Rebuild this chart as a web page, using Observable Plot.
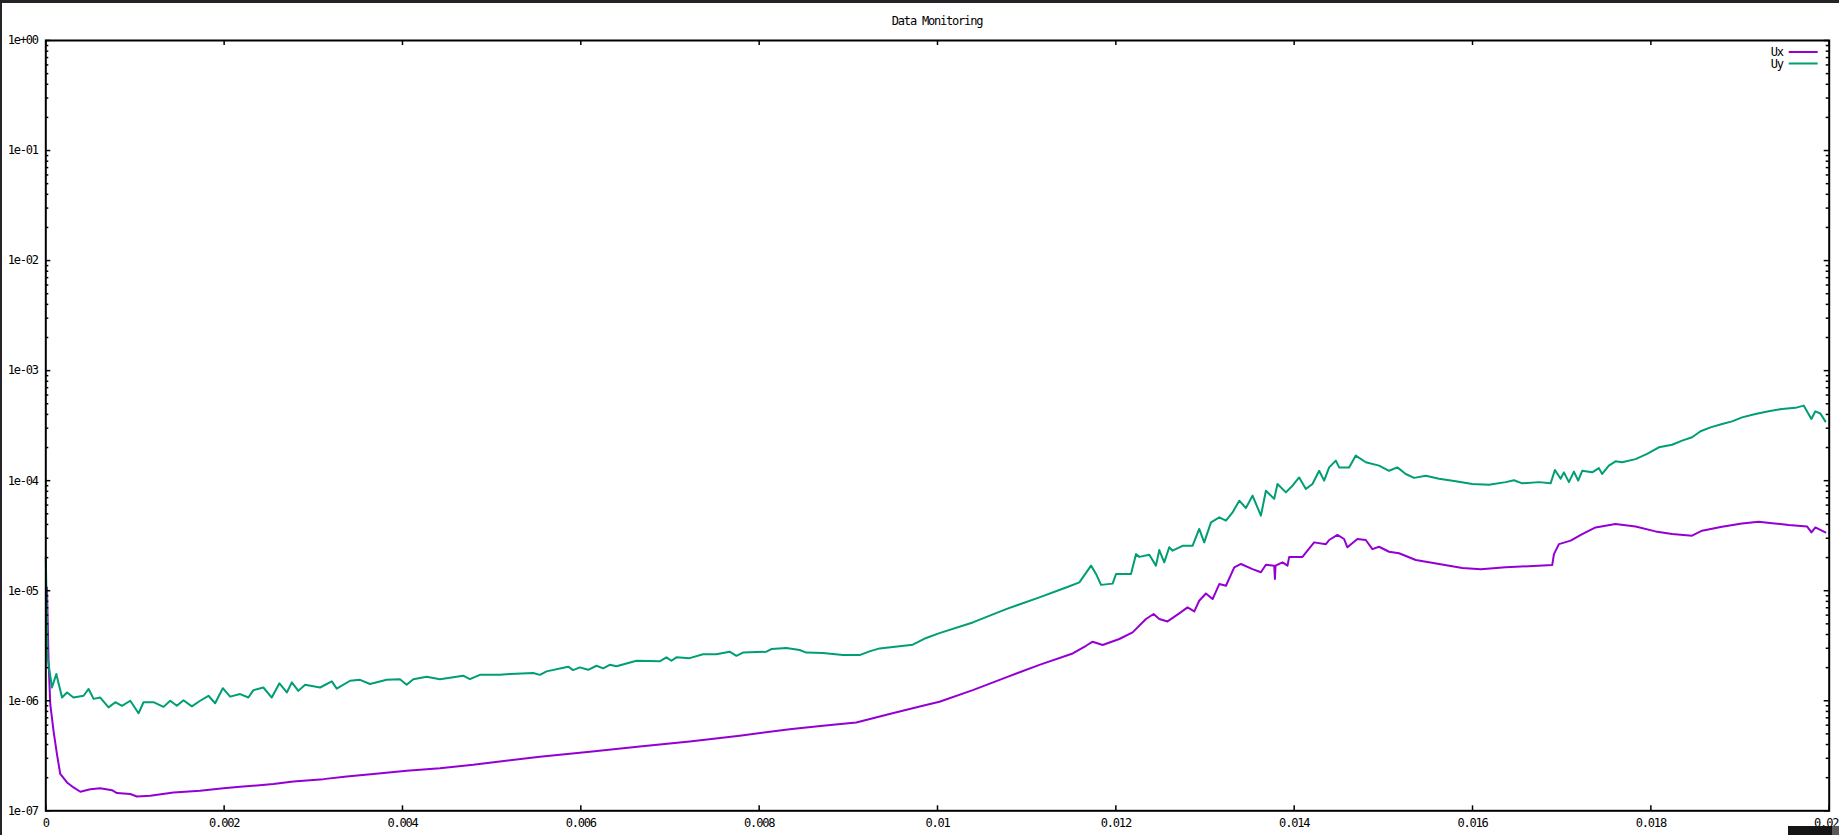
<!DOCTYPE html>
<html>
<head>
<meta charset="utf-8">
<script src="https://cdn.jsdelivr.net/npm/d3@7"></script>
<script src="https://cdn.jsdelivr.net/npm/@observablehq/plot@0.6"></script>
<style>
  html, body { margin: 0; padding: 0; background: #262228; width: 1839px; height: 835px; overflow: hidden; }
  #wrap { position: absolute; left: 2px; top: 3px; width: 1837px; height: 832px; background: #ffffff; }
  #title { height: 25px; line-height: 36px; width: 1837px; box-sizing: border-box; padding-left: 33px;
           text-align: center; font-family: 'DejaVu Sans Mono', monospace; font-size: 12px; letter-spacing: -1.2px;
           color: #000; overflow: visible; white-space: nowrap; }
  #chart svg { display: block; }
  #blk { position: absolute; left: 1788px; top: 826px; width: 44px; height: 9px; background: #151515; }
  #gry { position: absolute; left: 1832px; top: 826px; width: 7px; height: 9px; background: #5a5a5a; }
</style>
</head>
<body>
<div id="wrap">
  <div id="title">Data Monitoring</div>
  <div id="chart"></div>
</div>
<div id="blk"></div><div id="gry"></div>
<script>
// ---- data (time in ms, value) ----
const seriesNames = ["Ux", "Uy"];
const seriesColors = ["#9400d3", "#009e73"];

const uxTimeMs = [0.013, 0.031, 0.050, 0.087, 0.125, 0.162, 0.238, 0.311, 0.387, 0.499,
  0.611, 0.742, 0.798, 0.947, 1.022, 1.171, 1.432, 1.731, 1.992, 2.179,
  2.552, 2.776, 3.113, 3.375, 3.673, 4.047, 4.420, 4.793, 5.092, 5.541,
  6.101, 6.661, 7.221, 7.782, 8.342, 8.715, 9.089, 9.462, 9.835, 10.022,
  10.396, 10.770, 11.143, 11.516, 11.666, 11.740, 11.852, 12.039, 12.188, 12.338,
  12.423, 12.487, 12.580, 12.711, 12.804, 12.880, 12.935, 13.010, 13.085, 13.160,
  13.235, 13.328, 13.403, 13.533, 13.627, 13.683, 13.776, 13.784, 13.791, 13.869,
  13.925, 13.944, 14.093, 14.131, 14.224, 14.356, 14.392, 14.485, 14.560, 14.597,
  14.709, 14.803, 14.877, 14.952, 15.064, 15.176, 15.364, 15.625, 15.886, 16.092,
  16.372, 16.894, 16.913, 16.969, 17.100, 17.230, 17.380, 17.604, 17.828, 18.052,
  18.238, 18.462, 18.574, 18.798, 19.022, 19.209, 19.361, 19.546, 19.751, 19.801,
  19.845, 19.957];
const uxValues = [1.07e-5, 2.31e-6, 9.3e-7, 5.3e-7, 3.27e-7, 2.16e-7, 1.81e-7, 1.63e-7, 1.49e-7, 1.57e-7,
  1.60e-7, 1.54e-7, 1.45e-7, 1.42e-7, 1.35e-7, 1.37e-7, 1.47e-7, 1.52e-7, 1.60e-7, 1.65e-7,
  1.75e-7, 1.85e-7, 1.94e-7, 2.05e-7, 2.16e-7, 2.31e-7, 2.44e-7, 2.62e-7, 2.81e-7, 3.10e-7,
  3.44e-7, 3.84e-7, 4.27e-7, 4.81e-7, 5.52e-7, 5.93e-7, 6.35e-7, 7.57e-7, 9.0e-7, 9.8e-7,
  1.25e-6, 1.63e-6, 2.12e-6, 2.69e-6, 3.16e-6, 3.44e-6, 3.21e-6, 3.64e-6, 4.18e-6, 5.53e-6,
  6.14e-6, 5.53e-6, 5.26e-6, 6.22e-6, 7.05e-6, 6.48e-6, 8.11e-6, 9.44e-6, 8.4e-6, 1.15e-5,
  1.11e-5, 1.63e-5, 1.75e-5, 1.57e-5, 1.47e-5, 1.72e-5, 1.69e-5, 1.28e-5, 1.69e-5, 1.81e-5,
  1.69e-5, 2.03e-5, 2.03e-5, 2.22e-5, 2.75e-5, 2.65e-5, 2.89e-5, 3.21e-5, 2.95e-5, 2.48e-5,
  2.95e-5, 2.89e-5, 2.39e-5, 2.51e-5, 2.26e-5, 2.19e-5, 1.90e-5, 1.75e-5, 1.61e-5, 1.57e-5,
  1.63e-5, 1.71e-5, 2.15e-5, 2.65e-5, 2.85e-5, 3.27e-5, 3.76e-5, 4.04e-5, 3.84e-5, 3.46e-5,
  3.27e-5, 3.16e-5, 3.51e-5, 3.82e-5, 4.09e-5, 4.24e-5, 4.11e-5, 3.95e-5, 3.84e-5, 3.39e-5,
  3.76e-5, 3.39e-5];

const uyPoints = [
  [0.000, 2.0e-5], [0.020, 2.48e-6], [0.069, 1.32e-6], [0.118, 1.75e-6], [0.182, 1.07e-6],
  [0.238, 1.19e-6], [0.311, 1.07e-6], [0.424, 1.11e-6], [0.480, 1.28e-6], [0.536, 1.04e-6],
  [0.611, 1.07e-6], [0.704, 8.7e-7], [0.779, 9.7e-7], [0.854, 9.0e-7], [0.947, 1.0e-6],
  [1.040, 7.7e-7], [1.096, 9.7e-7], [1.208, 9.7e-7], [1.320, 8.8e-7], [1.395, 1.0e-6],
  [1.470, 9.0e-7], [1.544, 1.01e-6], [1.638, 8.9e-7], [1.731, 1.0e-6], [1.824, 1.11e-6],
  [1.899, 9.5e-7], [1.985, 1.30e-6], [2.067, 1.09e-6], [2.179, 1.15e-6], [2.272, 1.07e-6],
  [2.328, 1.25e-6], [2.440, 1.32e-6], [2.534, 1.07e-6], [2.620, 1.44e-6], [2.703, 1.19e-6],
  [2.759, 1.47e-6], [2.832, 1.23e-6], [2.908, 1.40e-6], [3.076, 1.32e-6], [3.207, 1.50e-6],
  [3.263, 1.29e-6], [3.412, 1.52e-6], [3.524, 1.55e-6], [3.636, 1.42e-6], [3.823, 1.55e-6],
  [3.972, 1.57e-6], [4.047, 1.40e-6], [4.121, 1.57e-6], [4.271, 1.65e-6], [4.420, 1.57e-6],
  [4.681, 1.69e-6], [4.756, 1.57e-6], [4.868, 1.72e-6], [5.092, 1.72e-6], [5.205, 1.75e-6],
  [5.465, 1.79e-6], [5.541, 1.72e-6], [5.616, 1.85e-6], [5.858, 2.04e-6], [5.914, 1.90e-6],
  [5.989, 2.01e-6], [6.082, 1.91e-6], [6.176, 2.08e-6], [6.250, 1.97e-6], [6.325, 2.12e-6],
  [6.400, 2.06e-6], [6.624, 2.31e-6], [6.885, 2.28e-6], [6.960, 2.48e-6], [7.016, 2.31e-6],
  [7.072, 2.48e-6], [7.221, 2.44e-6], [7.370, 2.65e-6], [7.520, 2.65e-6], [7.669, 2.79e-6],
  [7.745, 2.56e-6], [7.818, 2.74e-6], [8.081, 2.79e-6], [8.137, 2.95e-6], [8.305, 3.01e-6],
  [8.454, 2.89e-6], [8.529, 2.74e-6], [8.715, 2.71e-6], [8.939, 2.60e-6], [9.126, 2.60e-6],
  [9.238, 2.81e-6], [9.350, 2.99e-6], [9.723, 3.23e-6], [9.873, 3.72e-6], [10.022, 4.12e-6],
  [10.396, 5.15e-6], [10.770, 6.81e-6], [11.143, 8.69e-6], [11.442, 1.07e-5], [11.591, 1.19e-5],
  [11.722, 1.69e-5], [11.778, 1.42e-5], [11.834, 1.13e-5], [11.964, 1.16e-5], [12.002, 1.42e-5],
  [12.170, 1.42e-5], [12.226, 2.15e-5], [12.263, 2.03e-5], [12.375, 2.12e-5], [12.450, 1.69e-5],
  [12.487, 2.34e-5], [12.543, 1.81e-5], [12.599, 2.48e-5], [12.636, 2.31e-5], [12.748, 2.56e-5],
  [12.860, 2.56e-5], [12.935, 3.64e-5], [12.991, 2.75e-5], [13.067, 4.18e-5], [13.160, 4.64e-5],
  [13.235, 4.33e-5], [13.309, 5.15e-5], [13.384, 6.58e-5], [13.459, 5.65e-5], [13.533, 7.31e-5],
  [13.627, 4.81e-5], [13.683, 8.11e-5], [13.776, 6.83e-5], [13.813, 9.33e-5], [13.907, 7.83e-5],
  [13.981, 9.0e-5], [14.056, 1.07e-4], [14.131, 8.4e-5], [14.205, 9.33e-5], [14.280, 1.23e-4],
  [14.336, 1.0e-4], [14.392, 1.32e-4], [14.467, 1.52e-4], [14.504, 1.32e-4], [14.616, 1.32e-4],
  [14.691, 1.69e-4], [14.803, 1.47e-4], [14.952, 1.37e-4], [15.064, 1.23e-4], [15.157, 1.32e-4],
  [15.251, 1.15e-4], [15.345, 1.06e-4], [15.476, 1.11e-4], [15.625, 1.04e-4], [15.812, 9.86e-5],
  [15.998, 9.33e-5], [16.185, 9.2e-5], [16.372, 9.7e-5], [16.465, 1.01e-4], [16.558, 9.46e-5],
  [16.745, 9.7e-5], [16.876, 9.46e-5], [16.924, 1.25e-4], [16.988, 1.04e-4], [17.025, 1.19e-4],
  [17.081, 9.7e-5], [17.137, 1.21e-4], [17.185, 1.0e-4], [17.230, 1.23e-4], [17.342, 1.19e-4],
  [17.417, 1.30e-4], [17.454, 1.15e-4], [17.529, 1.37e-4], [17.604, 1.50e-4], [17.678, 1.47e-4],
  [17.828, 1.57e-4], [17.958, 1.75e-4], [18.090, 2.01e-4], [18.239, 2.12e-4], [18.350, 2.31e-4],
  [18.463, 2.48e-4], [18.557, 2.81e-4], [18.669, 3.05e-4], [18.799, 3.27e-4], [18.911, 3.46e-4],
  [19.023, 3.76e-4], [19.173, 4.04e-4], [19.322, 4.27e-4], [19.471, 4.49e-4], [19.621, 4.59e-4],
  [19.714, 4.81e-4], [19.800, 3.64e-4], [19.845, 4.27e-4], [19.901, 4.08e-4], [19.957, 3.46e-4]
];

const xTicks = [0, 0.002, 0.004, 0.006, 0.008, 0.01, 0.012, 0.014, 0.016, 0.018, 0.02];
const yMajorTicks = [1e-7, 1e-6, 1e-5, 1e-4, 1e-3, 1e-2, 1e-1, 1];
const yMinorTicks = [];
for (let e = -7; e < 0; e++) for (let k = 2; k <= 9; k++) yMinorTicks.push(k * Math.pow(10, e));

// ---- build tables ----
const ux = uxTimeMs.map((t, i) => ({t: t / 1000, v: uxValues[i]}));
const uy = uyPoints.map(([t, v]) => ({t: t / 1000, v}));

const fmtY = d => {
  const e = Math.round(Math.log10(d));
  return "1e" + (e < 0 ? "-" : "+") + String(Math.abs(e)).padStart(2, "0");
};
const fmtX = d => String(+d.toFixed(3));

const W = 1837, H = 807, mL = 43.3, mR = 10.3, mT = 12, mB = 24.7;
const fw = W - mL - mR, fh = H - mT - mB;

const svg = Plot.plot({
  width: W, height: H,
  marginLeft: mL, marginRight: mR, marginTop: mT, marginBottom: mB,
  style: {fontFamily: "'DejaVu Sans Mono', monospace", fontSize: "12px", background: "#ffffff", color: "#000", overflow: "hidden"},
  x: {domain: [0, 0.02]},
  y: {type: "log", domain: [1e-7, 1]},
  marks: [
    Plot.line(ux, {x: "t", y: "v", stroke: seriesColors[0], strokeWidth: 2, strokeLinejoin: "round"}),
    Plot.line(uy, {x: "t", y: "v", stroke: seriesColors[1], strokeWidth: 2, strokeLinejoin: "round"}),
    Plot.ruleY(yMajorTicks, {insetRight: fw - 5, stroke: "#000", strokeWidth: 1.5}),
    Plot.ruleY(yMajorTicks, {insetLeft: fw - 5, stroke: "#000", strokeWidth: 1.5}),
    Plot.ruleY(yMinorTicks, {insetRight: fw - 3, stroke: "#000", strokeWidth: 1.5}),
    Plot.ruleY(yMinorTicks, {insetLeft: fw - 3, stroke: "#000", strokeWidth: 1.5}),
    Plot.ruleX(xTicks, {insetBottom: fh - 5, stroke: "#000", strokeWidth: 1.5}),
    Plot.ruleX(xTicks, {insetTop: fh - 5, stroke: "#000", strokeWidth: 1.5}),
    Plot.axisY({ticks: yMajorTicks, tickSize: 0, tickPadding: 8, tickFormat: fmtY, label: null}),
    Plot.axisX({ticks: xTicks.slice(0, -1), tickSize: 0, tickPadding: 8, tickFormat: fmtX, label: null}),
    Plot.axisX({ticks: xTicks.slice(-1), tickSize: 0, tickPadding: 8, tickFormat: fmtX, label: null, textAnchor: "end", dx: 9}),
    Plot.frame({stroke: "#000", strokeWidth: 2})
  ]
});
svg.style.letterSpacing = "-1.2px";

// legend (gnuplot style, inside top-right of the frame)
const lg = d3.select(svg).append("g");
seriesNames.forEach((name, i) => {
  const y = mT + 12 + i * 11.5;
  const xr = W - mR;
  lg.append("text").attr("x", xr - 46).attr("y", y).attr("text-anchor", "end")
    .attr("dominant-baseline", "central").attr("fill", "#000").text(name);
  lg.append("line").attr("x1", xr - 40).attr("x2", xr - 11).attr("y1", y).attr("y2", y)
    .attr("stroke", seriesColors[i]).attr("stroke-width", 2);
});

document.getElementById("chart").appendChild(svg);
</script>
</body>
</html>
